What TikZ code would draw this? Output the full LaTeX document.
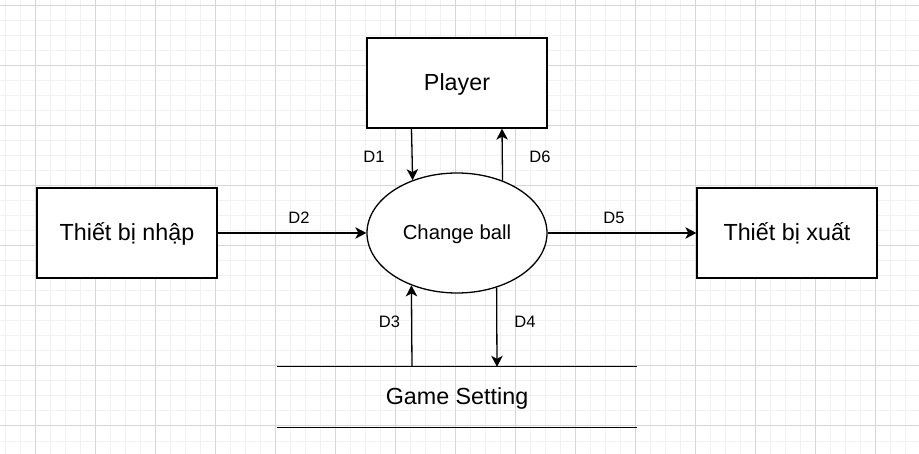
\documentclass[tikz,border=0pt]{standalone}
\usepackage{fontspec}
\setmainfont{Liberation Sans}
\usetikzlibrary{arrows.meta,shapes.geometric}
\definecolor{gridminor}{HTML}{F1F1F1}
\definecolor{gridmajor}{HTML}{D6D6D6}
\tikzset{
  boxnode/.style={draw, line width=1.3pt, minimum width=180pt, minimum height=90pt, inner sep=0pt, text height=16.8pt, text depth=2.3pt, font=\fontsize{23.3}{26}\selectfont},
  procnode/.style={draw, ellipse, line width=1.3pt, minimum width=180pt, minimum height=120pt, inner sep=0pt, text height=14.6pt, text depth=2pt, font=\fontsize{20.3}{23}\selectfont},
  storenode/.style={minimum width=360pt, minimum height=60pt, inner sep=0pt, text height=16.8pt, text depth=2.3pt, font=\fontsize{23.3}{26}\selectfont},
  flow/.style={line width=1.3pt, -{Stealth[length=11pt,width=11.5pt,inset=3pt]}},
  flowlabel/.style={font=\fontsize{16.5}{19}\selectfont, inner sep=0pt, text height=11.9pt, text depth=1.6pt},
  storeline/.style={line width=1.3pt}
}
\begin{document}
\begin{tikzpicture}[x=1pt,y=-1pt]
\useasboundingbox (0,0) rectangle (919,454);
\fill[white] (0,0) rectangle (919,454);
% grid
\foreach \x in {5.5,20.5,...,919} \draw[gridminor, line width=1pt] (\x,0) -- (\x,454);
\foreach \y in {6,21,...,454} \draw[gridminor, line width=1pt] (0,\y) -- (919,\y);
\foreach \x in {35.5,95.5,...,919} \draw[gridmajor, line width=1pt] (\x,0) -- (\x,454);
\foreach \y in {6,66,...,454} \draw[gridmajor, line width=1pt] (0,\y) -- (919,\y);
% nodes
\node[boxnode, fill=white] (player) at (457,83) {Player};
\node[boxnode, fill=white] (nhap) at (127,233) {Thiết bị nhập};
\node[boxnode, fill=white] (xuat) at (787,233) {Thiết bị xuất};
\node[procnode, fill=white] (ball) at (457,233) {Change ball};
\node[storenode] (gs) at (457,397) {Game Setting};
\draw[storeline] (gs.north west) -- (gs.north east);
\draw[storeline] (gs.south west) -- (gs.south east);
% flows
\draw[flow] ([xshift=-45.5pt]player.south) -- (ball.130);
\draw[flow] (ball.49) -- ([xshift=45pt]player.south);
\draw[flow] (nhap.east) -- (ball.west);
\draw[flow] (ball.east) -- (xuat.west);
\draw[flow] ([xshift=-45pt]gs.north) -- (ball.229);
\draw[flow] (ball.306.7) -- ([xshift=40pt]gs.north);
% labels
\node[flowlabel] (l1) at (374,157) {D1};
\node[flowlabel] (l6) at (540,157) {D6};
\node[flowlabel] (l2) at (299,218) {D2};
\node[flowlabel] (l5) at (614,218) {D5};
\node[flowlabel] (l3) at (389.5,322) {D3};
\node[flowlabel] (l4) at (525,322) {D4};
\end{tikzpicture}
\end{document}
